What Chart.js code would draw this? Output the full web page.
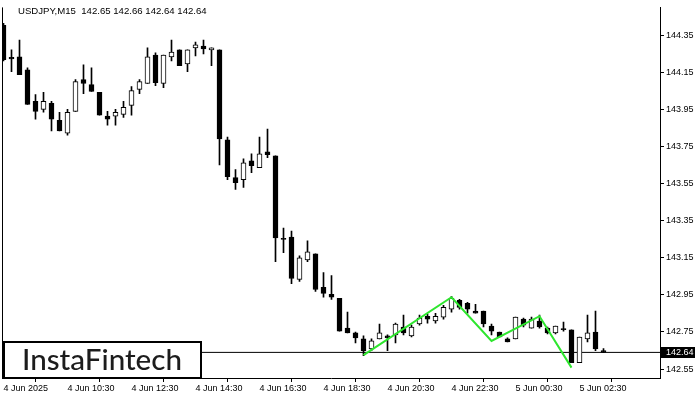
<!DOCTYPE html>
<html>
<head>
<meta charset="utf-8">
<script src="https://cdn.jsdelivr.net/npm/chart.js@4.4.1/dist/chart.umd.min.js"></script>
<style>
html,body{margin:0;padding:0;background:#fff;}
canvas{display:block;}
</style>
</head>
<body>
<canvas id="c" width="700" height="400"></canvas>
<script>
// ---- data (USDJPY M15, bars from 4 Jun 08:30) ----
const titleText = "USDJPY,M15  142.65 142.66 142.64 142.64";
const opens = [144.403,144.230,144.233,144.163,143.993,143.950,143.982,143.891,143.822,143.939,
  144.110,144.083,144.041,143.913,143.913,143.923,143.971,144.057,144.089,144.243,
  144.089,144.233,144.270,144.195,144.281,144.291,144.270,144.270,143.785,143.582,
  143.571,143.673,143.635,143.721,143.699,143.251,143.262,143.033,143.139,143.171,
  142.990,142.953,142.931,142.771,142.745,142.713,142.659,142.713,142.729,142.734,
  142.777,142.729,142.793,142.835,142.809,142.830,142.873,142.921,142.905,142.862,
  142.862,142.782,142.750,142.713,142.713,142.819,142.771,142.809,142.771,142.745,
  142.766,142.761,142.585,142.713,142.750,142.65];
const highs = [144.414,144.270,144.323,144.174,144.030,144.041,143.993,143.934,143.950,144.110,
  144.190,144.174,144.041,143.939,143.950,143.993,144.073,144.110,144.281,144.254,
  144.243,144.323,144.270,144.270,144.313,144.323,144.281,144.270,143.801,143.625,
  143.683,143.710,143.801,143.843,143.699,143.310,143.294,143.161,143.241,143.171,
  143.070,143.054,142.931,142.857,142.750,142.729,142.713,142.793,142.734,142.798,
  142.841,142.787,142.841,142.846,142.851,142.894,142.942,142.926,142.910,142.899,
  142.862,142.793,142.750,142.718,142.830,142.825,142.830,142.841,142.777,142.782,
  142.803,142.761,142.723,142.841,142.862,142.66];
const lows = [144.211,144.153,144.137,143.977,143.897,143.934,143.833,143.833,143.811,143.939,
  144.035,144.046,143.918,143.865,143.865,143.907,143.918,144.035,144.089,144.078,
  144.067,144.211,144.185,144.153,144.238,144.249,144.185,143.651,143.571,143.518,
  143.529,143.609,143.635,143.689,143.129,143.177,143.011,143.022,143.129,142.969,
  142.937,142.926,142.755,142.745,142.691,142.622,142.649,142.713,142.649,142.691,
  142.734,142.723,142.787,142.798,142.798,142.819,142.857,142.873,142.851,142.851,
  142.777,142.734,142.723,142.697,142.713,142.777,142.771,142.771,142.739,142.739,
  142.755,142.585,142.585,142.697,142.649,142.64];
const closes = [144.217,144.222,144.137,143.977,143.939,143.993,143.897,143.833,143.934,144.099,
  144.089,144.046,143.918,143.897,143.934,143.961,144.051,144.099,144.233,144.094,
  144.243,144.259,144.185,144.270,144.297,144.275,144.281,143.790,143.587,143.555,
  143.662,143.646,143.710,143.705,143.257,143.249,143.038,143.150,143.182,142.979,
  142.958,142.937,142.755,142.745,142.718,142.649,142.702,142.745,142.718,142.793,
  142.745,142.777,142.825,142.819,142.835,142.883,142.931,142.883,142.873,142.851,
  142.793,142.755,142.723,142.697,142.830,142.787,142.819,142.777,142.745,142.782,
  142.763,142.585,142.723,142.745,142.659,142.64];
const lastPrice = 142.64;
const lastPriceLabel = "142.64";
const xTickIdx = [0,8,16,24,32,40,48,56,64,72];
const xTickLabels = ["4 Jun 2025","4 Jun 10:30","4 Jun 12:30","4 Jun 14:30","4 Jun 16:30",
  "4 Jun 18:30","4 Jun 20:30","4 Jun 22:30","5 Jun 00:30","5 Jun 02:30"];
const yTickLabels = ["144.35","144.15","143.95","143.75","143.55","143.35","143.15","142.95","142.75","142.55"];
const patternIdx = [45,56,61,67,71];
const patternVals = [142.625,142.937,142.702,142.835,142.558];
const logoText = "InstaFintech";

// ---- view ----
const X_MIN = -0.1875, X_MAX = 82.0625;
const Y_MIN = 142.502, Y_MAX = 144.4993;
const FONT = "'Liberation Sans', Arial, sans-serif";

const wickData = lows.map((l,i)=>({x:i, y:[l, highs[i]]}));
const bodyData = opens.map((o,i)=>({x:i, y:[o, closes[i]]}));
const bodyFill = opens.map((o,i)=> closes[i] > o ? '#ffffff' : '#000000');

const overlay = {
  id:'overlay',
  afterDatasetsDraw(chart){
    const ctx = chart.ctx, a = chart.chartArea;
    ctx.save();
    ctx.strokeStyle='#000'; ctx.lineWidth=1;
    ctx.beginPath(); ctx.moveTo(a.left+0.5, a.top); ctx.lineTo(a.left+0.5, a.bottom); ctx.stroke();
    ctx.fillStyle='#fff';
    ctx.fillRect(4, 342, 197, 36);
    ctx.lineWidth=2; ctx.strokeStyle='#000';
    ctx.strokeRect(4, 342, 197, 36);
    let fs = 25;
    ctx.font = "500 "+fs+"px Lato, 'Open Sans', sans-serif";
    const w = ctx.measureText(logoText).width;
    fs = fs*160/w;
    ctx.font = "500 "+fs.toFixed(2)+"px Lato, 'Open Sans', sans-serif";
    ctx.fillStyle='#1c1c1c'; ctx.textAlign='center'; ctx.textBaseline='middle';
    ctx.fillText(logoText, 102, 360.5);
    ctx.restore();
  },
  afterDraw(chart){
    const ctx = chart.ctx, ys = chart.scales.y, a = chart.chartArea;
    ctx.save();
    ctx.font = "9.6px "+FONT; ctx.fillStyle='#000'; ctx.textAlign='left'; ctx.textBaseline='middle';
    ctx.fillText(titleText, 18, 11);
    const y = Math.round(ys.getPixelForValue(lastPrice));
    ctx.font = "9px "+FONT;
    ctx.fillStyle='#000';
    ctx.fillRect(a.right+1, y-5, 34, 11);
    ctx.fillStyle='#fff';
    ctx.fillText(lastPriceLabel, a.right+6, y+0.5);
    ctx.restore();
  }
};

new Chart(document.getElementById('c'), {
  type:'bar',
  data:{
    datasets:[
      { type:'line', data:patternIdx.map((x,i)=>({x, y:patternVals[i]})),
        borderColor:'#2ee62e', borderWidth:2, pointRadius:0, tension:0, order:0 },
      { type:'line', data:[{x:X_MIN,y:lastPrice},{x:X_MAX,y:lastPrice}],
        borderColor:'#000', borderWidth:1, pointRadius:0, order:3 },
      { data:bodyData, backgroundColor:bodyFill, borderColor:'#000', borderWidth:1,
        borderSkipped:false, barThickness:5, grouped:false, minBarLength:1, order:1 },
      { data:wickData, backgroundColor:'#000', borderWidth:0,
        barThickness:1, grouped:false, order:2 }
    ]
  },
  options:{
    responsive:false, animation:false, devicePixelRatio:1,
    layout:{padding:{top:4,left:2,right:0,bottom:0}},
    plugins:{legend:{display:false}, tooltip:{enabled:false}, title:{display:false}},
    scales:{
      x:{ type:'linear', min:X_MIN, max:X_MAX, offset:false,
        afterBuildTicks(s){ s.ticks = xTickIdx.map(v=>({value:v})); },
        afterFit(s){ s.height = 22; },
        ticks:{ autoSkip:false, maxRotation:0, align:'start', padding:1, color:'#000',
          font:{family:FONT, size:9},
          callback(v, i){ return xTickLabels[i]; } },
        grid:{ drawOnChartArea:false, drawTicks:true, tickLength:4, color:'#000' },
        border:{ display:true, color:'#000', width:1 }
      },
      y:{ type:'linear', position:'right', min:Y_MIN, max:Y_MAX,
        afterBuildTicks(s){ s.ticks = yTickLabels.map(t=>({value:parseFloat(t)})); },
        afterFit(s){ s.width = 40; },
        ticks:{ padding:2, color:'#000', font:{family:FONT, size:9},
          callback(v, i){ return yTickLabels[i]; } },
        grid:{ drawOnChartArea:false, drawTicks:true, tickLength:4, color:'#000' },
        border:{ display:true, color:'#000', width:1 }
      }
    }
  },
  plugins:[overlay]
});
</script>
</body>
</html>
